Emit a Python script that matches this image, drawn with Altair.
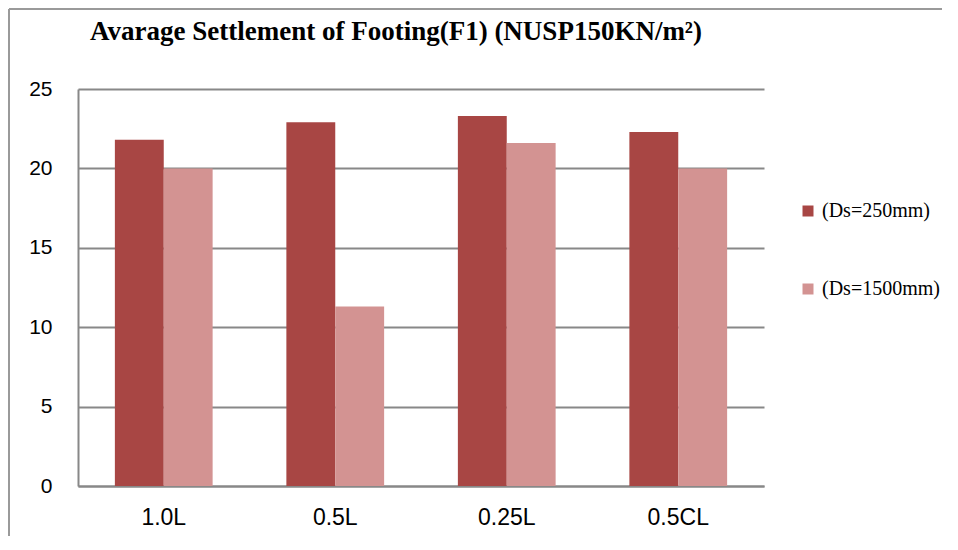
import altair as alt
import pandas as pd

categories = ["1.0L", "0.5L", "0.25L", "0.5CL"]
series_names = ["(Ds=250mm)", "(Ds=1500mm)"]
ds250 = [21.8, 22.9, 23.3, 22.3]
ds1500 = [20.0, 11.3, 21.6, 20.0]
colors = ["#A84644", "#D39392"]
y_ticks = [0, 5, 10, 15, 20, 25]

rows = []
for c, a, b in zip(categories, ds250, ds1500):
    rows.append({"cat": c, "series": series_names[0], "value": a})
    rows.append({"cat": c, "series": series_names[1], "value": b})
df = pd.DataFrame(rows)

W, H = 686, 397

bars = alt.Chart(df).mark_bar().encode(
    x=alt.X("cat:N", sort=categories, title=None,
            scale=alt.Scale(paddingInner=0.43, paddingOuter=0.215),
            axis=alt.Axis(labelAngle=0, labelFont="Liberation Sans", labelFontSize=23,
                          labelColor="#000000", labelPadding=20, ticks=False,
                          domainColor="#888888", domainWidth=2, grid=False)),
    xOffset=alt.XOffset("series:N", sort=series_names, scale=alt.Scale(paddingInner=0, paddingOuter=0)),
    y=alt.Y("value:Q", title=None, scale=alt.Scale(domain=[0, 25], nice=False),
            axis=alt.Axis(values=y_ticks, labelFont="Liberation Sans", labelFontSize=21,
                          labelColor="#000000", labelPadding=26, ticks=False,
                          domainColor="#888888", domainWidth=2,
                          gridColor="#888888", gridWidth=2)),
    color=alt.Color("series:N", sort=series_names,
                    scale=alt.Scale(domain=series_names, range=colors),
                    legend=alt.Legend(title=None, orient="none", legendX=720, legendY=112,
                                      symbolType="square", symbolSize=121, symbolStrokeWidth=0,
                                      labelFont="Liberation Serif", labelFontSize=20,
                                      labelColor="#000000", rowPadding=58, labelOffset=4)),
)

border_df = pd.DataFrame({"k": [0]})
left_border = alt.Chart(border_df).mark_rule(color="#9a9a9a", strokeWidth=2).encode(
    x=alt.value(-69), y=alt.value(-80), y2=alt.value(H + 60)
)
top_border = alt.Chart(border_df).mark_rule(color="#9a9a9a", strokeWidth=2).encode(
    x=alt.value(-69), x2=alt.value(W + 200), y=alt.value(-80)
)

chart = alt.layer(left_border, top_border, bars).properties(
    width=W, height=H,
    title=alt.TitleParams("Avarage Settlement of Footing(F1) (NUSP150KN/m²)",
                          anchor="start", frame="group", dx=12, dy=38, offset=0,
                          font="Liberation Serif", fontSize=27, fontWeight="bold",
                          color="#000000"),
    padding={"left": 70, "top": 81, "right": 178, "bottom": 50},
    autosize=alt.AutoSizeParams(type="none"),
).configure_view(stroke=None)

chart.save("out.html", embed_options={"renderer": "svg", "actions": False})
